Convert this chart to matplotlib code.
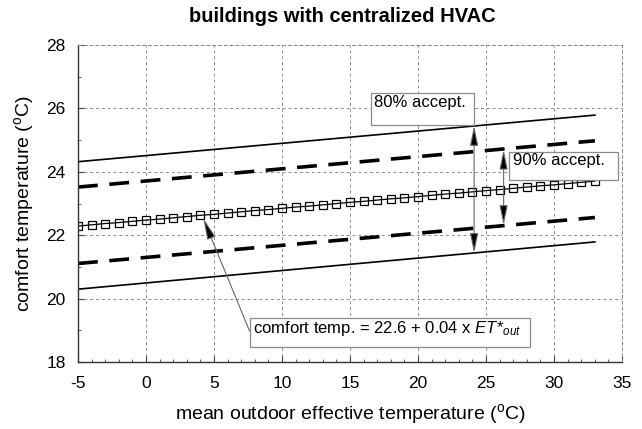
#!/usr/bin/env python3
# comfort temperature vs mean outdoor ET*, centralized HVAC buildings

import matplotlib
matplotlib.use("Agg")
import matplotlib.pyplot as plt
from matplotlib.ticker import MultipleLocator
from matplotlib.patches import Rectangle

plt.rcParams['font.family'] = ['Liberation Sans', 'DejaVu Sans']
plt.rcParams['mathtext.fontset'] = 'custom'
plt.rcParams['mathtext.rm'] = 'Liberation Sans'
plt.rcParams['mathtext.it'] = 'Liberation Sans:italic'
plt.rcParams['axes.unicode_minus'] = False

# outdoor ET* (deg C) and the comfort temperature read at each marker
et_out = [-5, -4, -3, -2, -1, 0, 1, 2, 3, 4, 5, 6, 7, 8, 9, 10, 11, 12, 13,
          14, 15, 16, 17, 18, 19, 20, 21, 22, 23, 24, 25, 26, 27, 28, 29,
          30, 31, 32, 33]
comfort = [22.29, 22.33, 22.37, 22.40, 22.44, 22.48, 22.51, 22.55, 22.59,
           22.63, 22.66, 22.70, 22.74, 22.78, 22.81, 22.85, 22.89, 22.92,
           22.96, 23.00, 23.04, 23.07, 23.11, 23.15, 23.18, 23.22, 23.26,
           23.30, 23.33, 23.37, 23.41, 23.44, 23.48, 23.52, 23.56, 23.59,
           23.63, 23.67, 23.71]

# acceptability limits, read at the two ends
band_x = [-5, 33]
upper80 = [24.32, 25.79]
lower80 = [20.30, 21.79]
upper90 = [23.52, 24.98]
lower90 = [21.11, 22.56]

fig = plt.figure(figsize=(6.42, 4.29), dpi=100)
ax = fig.add_axes([0.1215, 0.156, 0.8475, 0.739])

ax.plot(band_x, upper80, color='black', lw=1.2)
ax.plot(band_x, lower80, color='black', lw=1.2)
ax.plot(band_x, upper90, color='black', lw=2.6, dashes=(5.5, 3.2))
ax.plot(band_x, lower90, color='black', lw=2.6, dashes=(5.5, 3.2))
ax.plot(et_out, comfort, color='black', lw=0.9, marker='s', ms=6.4,
        mfc='none', mec='black', mew=0.9)

ax.set_xlim(-5, 35)
ax.set_ylim(18, 28)
ax.xaxis.set_major_locator(MultipleLocator(5))
ax.xaxis.set_minor_locator(MultipleLocator(1))
ax.yaxis.set_major_locator(MultipleLocator(2))
ax.yaxis.set_minor_locator(MultipleLocator(1))
ax.tick_params(which='both', direction='in', labelsize=12.5, color='#444444')
ax.tick_params(which='major', length=4, width=0.8)
ax.tick_params(which='minor', length=2.5, width=0.6)
ax.tick_params(axis='x', pad=10)
ax.tick_params(axis='y', pad=9)
ax.grid(True, which='major', color='#8a8a8a', lw=0.7, dashes=(3, 3))
for side in ['top', 'right']:
    ax.spines[side].set_color('#8a8a8a')
    ax.spines[side].set_linestyle((0, (3, 3)))
    ax.spines[side].set_linewidth(0.7)
for side in ['left', 'bottom']:
    ax.spines[side].set_color('#333333')
    ax.spines[side].set_linewidth(1.0)

ax.set_xlabel(r"mean outdoor effective temperature ($^{\mathrm{o}}$C)",
              fontsize=14, labelpad=8)
ax.set_ylabel(r"comfort temperature ($^{\mathrm{o}}$C)", fontsize=14,
              labelpad=7)
fig.text(0.5335, 0.961, "buildings with centralized HVAC", ha='center',
         va='center', fontsize=14.5, fontweight='bold')

arrow = dict(arrowstyle='<|-|>,head_length=1.2,head_width=0.25',
             fc='black', ec='#666666', lw=0.8, shrinkA=0, shrinkB=0,
             mutation_scale=10)
ax.annotate('', xy=(24.12, 25.45), xytext=(24.12, 21.44), arrowprops=arrow)
ax.annotate('', xy=(26.29, 24.70), xytext=(26.29, 22.32), arrowprops=arrow)
ax.annotate('', xy=(4.21, 22.53), xytext=(7.61, 18.98),
            arrowprops=dict(arrowstyle='-|>,head_length=1.3,head_width=0.27',
                            fc='black', ec='#666666', lw=0.8, shrinkA=0,
                            shrinkB=0, mutation_scale=10))

# label boxes
boxes = [
    ((16.57, 25.47), 7.55, 1.01, (16.75, 26.18), "80% accept."),
    ((26.69, 23.74), 8.02, 0.89, (27.0, 24.36), "90% accept."),
    ((7.65, 18.49), 20.59, 0.91, (7.9, 19.07),
     r"comfort temp. = 22.6 + 0.04 x $ET$*$_{out}$"),
]
for (x0, y0), w, h, (tx, ty), label in boxes:
    ax.add_patch(Rectangle((x0, y0), w, h, fc='white', ec='#8a8a8a',
                           lw=0.9, zorder=4))
    ax.text(tx, ty, label, ha='left', va='center', fontsize=12, zorder=5)

fig.savefig("out.png", dpi=100)
